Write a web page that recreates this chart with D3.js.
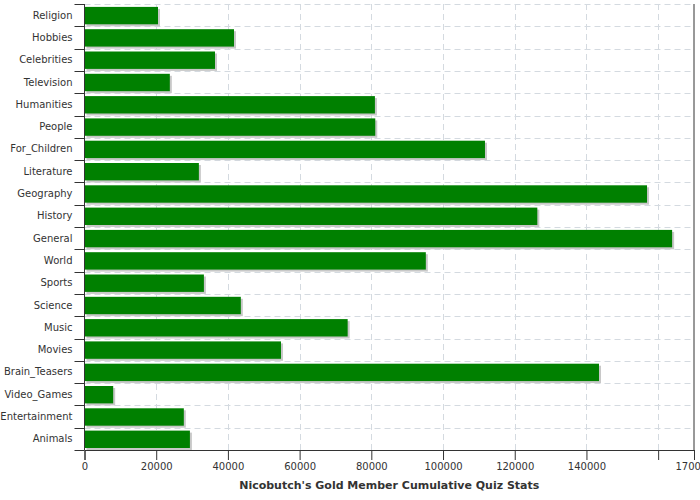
<!DOCTYPE html>
<html>
<head>
<meta charset="utf-8">
<script src="https://cdn.jsdelivr.net/npm/d3@7/dist/d3.min.js"></script>
<style>
  html, body { margin: 0; padding: 0; background: #fff; }
  svg { display: block; }
  text { font-family: "DejaVu Sans", sans-serif; }
</style>
</head>
<body>
<svg id="chart" width="700" height="500"></svg>
<script>
const categories = ["Religion","Hobbies","Celebrities","Television","Humanities","People","For_Children","Literature","Geography","History","General","World","Sports","Science","Music","Movies","Brain_Teasers","Video_Games","Entertainment","Animals"];
const values = [20500, 41700, 36400, 23800, 81000, 81100, 111700, 31900, 156900, 126300, 163900, 95200, 33300, 43600, 73400, 54800, 143500, 8000, 27700, 29400];
const xTicks = [0, 20000, 40000, 60000, 80000, 100000, 120000, 140000, 160000, 170000];
const xTickLabels = ["0","20000","40000","60000","80000","100000","120000","140000","","170000"];
const title = "Nicobutch's Gold Member Cumulative Quiz Stats";

(function () {
const svg = d3.select("#chart");
const mLeft = 84.5, mRight = 694, mTop = 4, mBottom = 450;

const x = d3.scaleLinear().domain([0, 170000]).range([mLeft, mRight]);
const y = d3.scaleBand().domain(categories).range([mTop, mBottom]).padding(0);
const step = y.step();

// grid
const grid = svg.append("g").attr("stroke", "#d4dae0").attr("stroke-dasharray", "6,4").attr("stroke-width", 1);
xTicks.slice(1, -1).forEach(t => {
  grid.append("line").attr("x1", Math.round(x(t)) + 0.5).attr("x2", Math.round(x(t)) + 0.5)
    .attr("y1", mTop).attr("y2", mBottom);
});
categories.slice(1).forEach(c => {
  const yy = Math.round(y(c)) + 0.5;
  grid.append("line").attr("x1", mLeft).attr("x2", mRight).attr("y1", yy).attr("y2", yy);
});
grid.append("line").attr("x1", mLeft).attr("x2", mRight).attr("y1", mTop + 0.5).attr("y2", mTop + 0.5);

// bars
const data = categories.map((c, i) => ({c, v: values[i]}));
const barOff = step * 0.13, barH = step * 0.78;
svg.append("g").selectAll("rect").data(data).join("rect")
  .attr("x", x(0) + 2).attr("y", d => y(d.c) + barOff + 2)
  .attr("width", d => x(d.v) - x(0)).attr("height", barH)
  .attr("fill", "#c8c8c8");
svg.append("g").selectAll("rect").data(data).join("rect")
  .attr("x", x(0)).attr("y", d => y(d.c) + barOff)
  .attr("width", d => x(d.v) - x(0)).attr("height", barH)
  .attr("fill", "#008000");

// x axis
const xAxis = d3.axisBottom(x).tickValues(xTicks).tickSize(10).tickPadding(3)
  .tickFormat((d, i) => xTickLabels[i]);
const gx = svg.append("g").attr("transform", `translate(0,${mBottom})`).call(xAxis);
gx.select(".domain").attr("stroke", "#333");
gx.selectAll(".tick line").attr("stroke", "#333");
gx.selectAll(".tick text").attr("fill", "#333").style("font-size", "10px").style("font-family", "DejaVu Sans");

// y axis (ticks at band boundaries)
const gy = svg.append("g");
gy.append("line").attr("x1", mLeft).attr("x2", mLeft).attr("y1", mTop).attr("y2", mBottom).attr("stroke", "#333");
categories.forEach(c => {
  const yy = Math.round(y(c)) + 0.5;
  gy.append("line").attr("x1", mLeft - 10).attr("x2", mLeft).attr("y1", yy).attr("y2", yy).attr("stroke", "#333");
});
gy.append("line").attr("x1", mLeft - 10).attr("x2", mLeft).attr("y1", mBottom + 0.5).attr("y2", mBottom + 0.5).attr("stroke", "#333");
gy.selectAll("text").data(categories).join("text")
  .attr("x", mLeft - 12).attr("y", d => y(d) + step / 2)
  .attr("dy", "0.35em").attr("text-anchor", "end")
  .attr("fill", "#333").style("font-size", "10px")
  .text(d => d);

// right border
svg.append("line").attr("x1", mRight).attr("x2", mRight).attr("y1", mTop).attr("y2", mBottom).attr("stroke", "#333");

// title
svg.append("text").attr("x", (mLeft + mRight) / 2).attr("y", 489)
  .attr("text-anchor", "middle").attr("fill", "#333")
  .style("font-size", "11px").style("font-weight", "bold")
  .text(title);
})();
</script>
</body>
</html>
